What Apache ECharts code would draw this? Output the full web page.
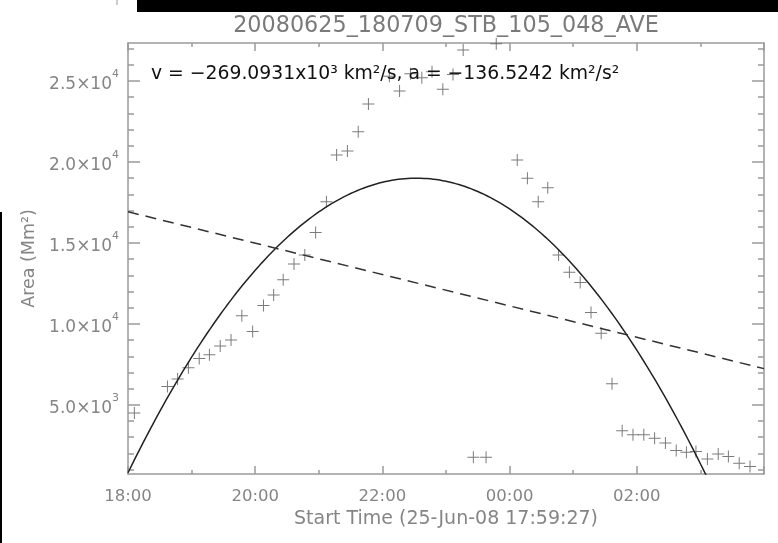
<!DOCTYPE html>
<html>
<head>
<meta charset="utf-8">
<script src="https://cdn.jsdelivr.net/npm/echarts@6/dist/echarts.min.js"></script>
<style>
  html, body { margin: 0; padding: 0; background: #ffffff; }
  #chart { width: 778px; height: 543px; }
</style>
</head>
<body>
<div id="chart"></div>
<script>
// Observation times, hours after 18:00 on 25-Jun-08
const obsHours = [
  0.10, 0.62, 0.78, 0.95, 1.12, 1.28, 1.45, 1.62, 1.79, 1.96,
  2.13, 2.29, 2.44, 2.61, 2.78, 2.95, 3.12, 3.28, 3.45, 3.62,
  3.78, 4.11, 4.27, 4.44, 4.62, 4.78, 4.95, 5.11, 5.27, 5.43,
  5.63, 5.79, 6.12, 6.28, 6.45, 6.60, 6.77, 6.94, 7.11, 7.28,
  7.44, 7.61, 7.77, 7.94, 8.11, 8.28, 8.45, 8.62, 8.78, 8.93,
  9.11, 9.28, 9.44, 9.61, 9.78
];
// Measured area (Mm^2) at each observation
const obsArea = [
  4500, 6130, 6600, 7300, 7860, 8090, 8640, 9010, 10510, 9525,
  11130, 11790, 12720, 13700, 14260, 15640, 17550, 20430, 20680, 21870,
  23580, 25290, 24380, 25450, 25200, 25570, 24500, 25410, 26910, 1770,
  1770, 27300, 20120, 18990, 17550, 18410, 14260, 13190, 12550, 10700,
  9425, 6300, 3395, 3150, 3150, 2940, 2640, 2180, 2080, 2120,
  1650, 1960, 1810, 1400, 1190
];

// Axis extents
const xMin = 0, xMax = 10;
const yMin = 730, yMax = 27350;

// Tick labels
const xTickHours = [0, 2, 4, 6, 8];
const xTickLabels = ['18:00', '20:00', '22:00', '00:00', '02:00'];
const yTickValues = [5000, 10000, 15000, 20000, 25000];
const yTickMantissa = ['5.0', '1.0', '1.5', '2.0', '2.5'];
const yTickExponent = ['3', '4', '4', '4', '4'];
const yMinorValues = [
  1000, 2000, 3000, 4000, 6000, 7000, 8000, 9000, 11000, 12000,
  13000, 14000, 16000, 17000, 18000, 19000, 21000, 22000, 23000, 24000,
  26000, 27000
];

// Fit results
const velocityKm2s = -269.0931e3;   // linear fit slope, km^2/s
const accelKm2s2 = -136.5242;       // quadratic fit acceleration, km^2/s^2
const linearAreaAt18 = 16925;       // linear fit at 18:00, Mm^2
const peakHour = 4.535;             // quadratic fit vertex, hours after 18:00
const peakArea = 19000;             // quadratic fit vertex, Mm^2

const titleText = '20080625_180709_STB_105_048_AVE';
const fitText = 'v = \u2212269.0931x10\u00b3 km\u00b2/s, a = \u2212136.5242 km\u00b2/s\u00b2';
const xName = 'Start Time (25-Jun-08 17:59:27)';
const yName = 'Area (Mm\u00b2)';

// unit conversions: km^2/s -> Mm^2/h, km^2/s^2 -> Mm^2/h^2
const slopePerHour = velocityKm2s * 3600 / 1e6;
const accelPerHour2 = accelKm2s2 * 3600 * 3600 / 1e6;

const scatterData = obsHours.map((h, i) => [h, obsArea[i]]);
const linearFit = [xMin, xMax].map(h => [h, linearAreaAt18 + slopePerHour * h]);
const quadFit = [];
for (let k = 0; k <= 200; k++) {
  const h = xMin + (xMax - xMin) * k / 200;
  quadFit.push([h, peakArea + 0.5 * accelPerHour2 * (h - peakHour) * (h - peakHour)]);
}

const FONT = '"DejaVu Sans", sans-serif';
const AXIS_GRAY = '#9a9a9a';
const TEXT_GRAY = '#858585';

const majorY = (pos, labels) => ({
  type: 'value', position: pos, min: yMin, max: yMax,
  axisLine: { show: true, lineStyle: { color: AXIS_GRAY, width: 1.5 } },
  axisTick: { show: true, inside: true, length: 12, customValues: yTickValues,
              lineStyle: { color: AXIS_GRAY, width: 1.5 } },
  axisLabel: labels ? {
    show: true, customValues: yTickValues, margin: 9,
    fontFamily: FONT, fontSize: 17, color: TEXT_GRAY,
    formatter: v => {
      const i = yTickValues.indexOf(v);
      return i < 0 ? '' : '{m|' + yTickMantissa[i] + '\u00d710}{e|' + yTickExponent[i] + '}';
    },
    rich: {
      m: { fontFamily: FONT, fontSize: 17, color: TEXT_GRAY, lineHeight: 24, verticalAlign: 'bottom' },
      e: { fontFamily: FONT, fontSize: 11, color: TEXT_GRAY, lineHeight: 24, verticalAlign: 'top' }
    }
  } : { show: false },
  splitLine: { show: false }
});
const minorY = (pos) => ({
  type: 'value', position: pos, min: yMin, max: yMax,
  axisLine: { show: false },
  axisTick: { show: true, inside: true, length: 6, customValues: yMinorValues,
              lineStyle: { color: AXIS_GRAY, width: 1.5 } },
  axisLabel: { show: false },
  splitLine: { show: false }
});
const xAx = (pos, labels) => ({
  type: 'value', position: pos, min: xMin, max: xMax, interval: 2,
  axisLine: { show: true, lineStyle: { color: AXIS_GRAY, width: 1.5 } },
  axisTick: { show: true, inside: true, length: 8, lineStyle: { color: AXIS_GRAY, width: 1.5 } },
  minorTick: { show: true, splitNumber: 2, length: 4, lineStyle: { color: AXIS_GRAY, width: 1.5 } },
  axisLabel: labels ? {
    show: true, margin: 14, fontFamily: FONT, fontSize: 16.5, color: TEXT_GRAY,
    showMaxLabel: false,
    formatter: v => { const i = xTickHours.indexOf(v); return i < 0 ? '' : xTickLabels[i]; }
  } : { show: false },
  name: labels ? xName : '',
  nameLocation: 'middle', nameGap: 36,
  nameTextStyle: { fontFamily: FONT, fontSize: 19, color: TEXT_GRAY },
  splitLine: { show: false }
});

const chart = echarts.init(document.getElementById('chart'), null, { renderer: 'canvas' });
const yLeft = majorY('left', true);
yLeft.name = yName;
yLeft.nameLocation = 'middle';
yLeft.nameGap = 83;
yLeft.nameRotate = 90;
yLeft.nameTextStyle = { fontFamily: FONT, fontSize: 17.5, color: TEXT_GRAY };

chart.setOption({
  animation: false,
  backgroundColor: '#ffffff',
  grid: { left: 128, top: 43, width: 636, height: 431, containLabel: false },
  xAxis: [xAx('bottom', true), xAx('top', false)],
  yAxis: [yLeft, minorY('left'), majorY('right', false), minorY('right')],
  series: [
    {
      name: 'Area', type: 'scatter', xAxisIndex: 0, yAxisIndex: 0,
      data: scatterData,
      symbol: 'path://M5.5,0h1v12h-1z M0,5.5h12v1h-12z',
      symbolSize: 12,
      itemStyle: { color: '#5a5a5a' },
      z: 3
    },
    {
      name: 'Quadratic fit', type: 'line', xAxisIndex: 0, yAxisIndex: 0,
      data: quadFit, showSymbol: false, clip: true,
      lineStyle: { color: '#222222', width: 1.5 },
      z: 4
    },
    {
      name: 'Linear fit', type: 'line', xAxisIndex: 0, yAxisIndex: 0,
      data: linearFit, showSymbol: false, clip: true,
      lineStyle: { color: '#333333', width: 1.5, type: [11, 7] },
      z: 4
    }
  ],
  graphic: [
    { type: 'text', x: 446, y: 26,
      style: { text: titleText, font: '22.3px ' + FONT, fill: '#7a7a7a', align: 'center', verticalAlign: 'middle' } },
    { type: 'text', x: 151, y: 74, z: 10,
      style: { text: fitText, font: '18.8px ' + FONT, fill: '#111111', align: 'left', verticalAlign: 'middle' } },
    { type: 'rect', shape: { x: 137, y: 0, width: 641, height: 12 }, style: { fill: '#000000' } },
    { type: 'rect', shape: { x: 0, y: 212, width: 2, height: 331 }, style: { fill: '#000000' } },
    { type: 'rect', shape: { x: 116.5, y: 0, width: 1, height: 5 }, style: { fill: '#999999' } }
  ]
});
</script>
</body>
</html>
